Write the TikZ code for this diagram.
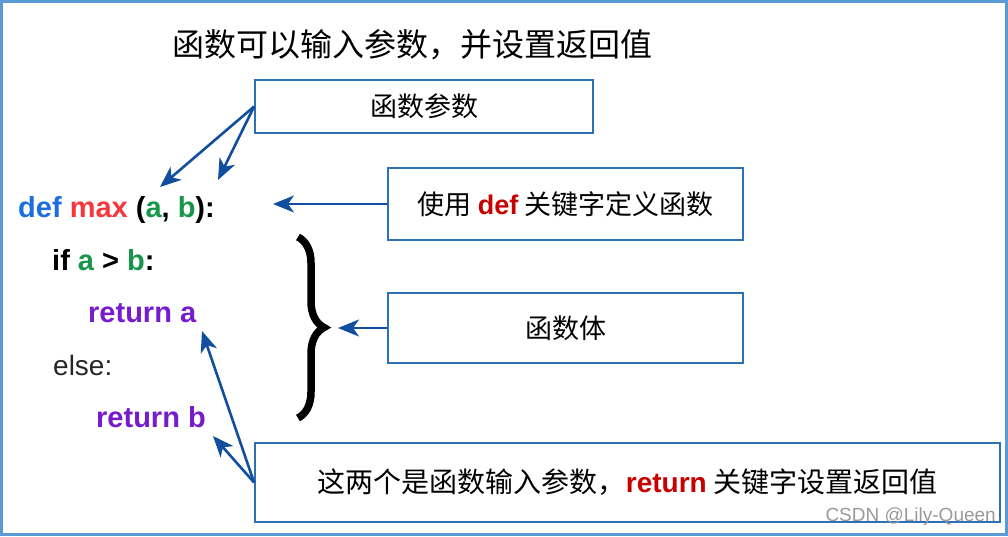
\documentclass[tikz,border=0pt]{standalone}
\usepackage{fontspec}
\setmainfont{Liberation Sans}
\newfontfamily\cjk{Noto Sans CJK SC}
\usetikzlibrary{arrows.meta,decorations.pathreplacing}

\definecolor{framebl}{RGB}{91,155,213}
\definecolor{boxbl}{RGB}{46,112,182}
\definecolor{arrbl}{RGB}{18,78,158}
\definecolor{kwblue}{RGB}{28,110,222}
\definecolor{kwred}{RGB}{245,55,60}
\definecolor{argreen}{RGB}{22,150,72}
\definecolor{retpurple}{RGB}{118,28,205}
\definecolor{darkred}{RGB}{200,0,0}

\begin{document}
\begin{tikzpicture}[x=1pt, y=-1pt,
    box/.style={draw=boxbl, line width=1.8pt, inner sep=0pt},
    code/.style={anchor=base west, inner sep=0pt, font=\fontsize{29}{32}\selectfont\bfseries},
    pointer/.style={draw=arrbl, line width=2.6pt, -{Stealth[length=21pt, width=17pt, inset=6pt]}}]
                \useasboundingbox (0,0) rectangle (1008,536);
                \draw[draw=framebl, line width=3pt] (1.5,1.5) rectangle (1006.5,534.5);

                % Title
                \node[font=\fontsize{32}{38}\selectfont\cjk] (title) at (412,45) {函数可以输入参数，并设置返回值};

                % Code lines
                \node[code] (sig) at (18,217) {\textcolor{kwblue}{def} \textcolor{kwred}{max} (\textcolor{argreen}{a}, \textcolor{argreen}{b}):};
                \node[code] (cond) at (52,270) {if \textcolor{argreen}{a} > \textcolor{argreen}{b}:};
                \node[code, text=retpurple] (reta) at (88,322) {return a};
                \node[code, font=\fontsize{28}{32}\selectfont, text=black!85] (els) at (53,375) {else:};
                \node[code, text=retpurple] (retb) at (96,427) {return b};

                % Boxes
                \node[box, minimum width=338, minimum height=53] (parambox) at (424,106.5) {\fontsize{27}{32}\selectfont\cjk 函数参数};
                \node[box, minimum width=355, minimum height=72] (defbox) at (565.5,204) {\fontsize{27}{32}\selectfont\cjk 使用 {\rmfamily\bfseries\color{darkred}def} 关键字定义函数};
                \node[box, minimum width=355, minimum height=70] (bodybox) at (565.5,328) {\fontsize{27}{32}\selectfont\cjk 函数体};
                \node[box, minimum width=745, minimum height=79] (retbox) at (627.5,482.5) {\fontsize{28}{32}\selectfont\cjk 这两个是函数输入参数，{\rmfamily\bfseries\color{darkred}return} 关键字设置返回值};

                % Brace round the body
                \draw[line width=7.5pt, decorate, decoration={brace, amplitude=26pt}] (298,237) -- (298,418);
                \coordinate (bracetip) at (338,328);

                % Arrow ends
                \coordinate (pa) at (160,187);   % above a
                \coordinate (pb) at (218,180);   % above b
                \coordinate (sigend) at (273,204);
                \coordinate (ra) at (202,331);   % below return a
                \coordinate (rb) at (213,436);   % below return b

                % Arrows
                \draw[pointer] (parambox.west) -- (pa);
                \draw[pointer] (parambox.west) -- (pb);
                \draw[pointer] (defbox.west) -- (sigend);
                \draw[pointer] (bodybox.west) -- (bracetip);
                \draw[pointer] (retbox.west) -- (ra);
                \draw[pointer] (retbox.west) -- (rb);

                % Watermark
                \node[anchor=base east, inner sep=0pt, text=black!40, font=\fontsize{19}{20}\selectfont] (mark) at (996,521) {CSDN @Lily-Queen};
            \end{tikzpicture}
\end{document}
